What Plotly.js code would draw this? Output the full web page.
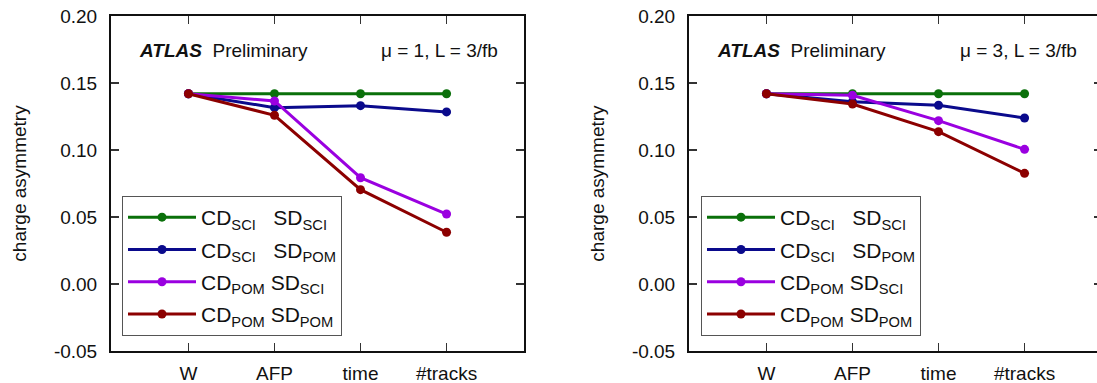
<!DOCTYPE html>
<html>
<head>
<meta charset="utf-8">
<script src="https://cdn.plot.ly/plotly-3.0.1.min.js"></script>
<style>
html,body{margin:0;padding:0;overflow:hidden;background:#fff;}
#chart{width:1104px;height:383px;}
</style>
</head>
<body>
<div id="chart"></div>
<script>
// ---- data ----
const categories = ['W', 'AFP', 'time', '#tracks'];
const seriesNames = [
  'CD<sub>SCI</sub>\u00a0\u00a0\u00a0SD<sub>SCI</sub>',
  'CD<sub>SCI</sub>\u00a0\u00a0\u00a0SD<sub>POM</sub>',
  'CD<sub>POM</sub>\u00a0SD<sub>SCI</sub>',
  'CD<sub>POM</sub>\u00a0SD<sub>POM</sub>'
];
const seriesColors = ['#0a700a', '#0a0a8c', '#9a00e0', '#8c0000'];
// mu = 1
const mu1_sciSci = [0.142, 0.142, 0.142, 0.142];
const mu1_sciPom = [0.142, 0.1316, 0.1331, 0.1284];
const mu1_pomSci = [0.142, 0.1366, 0.0793, 0.0522];
const mu1_pomPom = [0.142, 0.1259, 0.0704, 0.0386];
// mu = 3
const mu3_sciSci = [0.142, 0.142, 0.142, 0.142];
const mu3_sciPom = [0.142, 0.136, 0.1334, 0.1239];
const mu3_pomSci = [0.142, 0.1408, 0.1219, 0.1005];
const mu3_pomPom = [0.142, 0.1343, 0.1137, 0.0826];
const yTickVals = [-0.05, 0, 0.05, 0.10, 0.15, 0.20];
const yTickText = ['-0.05', '0.00', '0.05', '0.10', '0.15', '0.20'];
const panelTexts = ['\u03bc = 1, L = 3/fb', '\u03bc = 3, L = 3/fb'];

const FONT = 'Liberation Sans, Arial, sans-serif';
const traces = [];
function addPanel(list, xa, ya, leg, tag) {
  list.forEach((ys, i) => {
    traces.push({
      x: categories, y: ys, xaxis: xa, yaxis: ya,
      type: 'scatter', mode: 'lines+markers',
      name: seriesNames[i], legend: leg, legendgroup: tag + i,
      line: {color: seriesColors[i], width: 3},
      marker: {color: seriesColors[i], size: 9}
    });
  });
}
addPanel([mu1_sciSci, mu1_sciPom, mu1_pomSci, mu1_pomPom], 'x', 'y', 'legend', 'a');
addPanel([mu3_sciSci, mu3_sciPom, mu3_pomSci, mu3_pomPom], 'x2', 'y2', 'legend2', 'b');

const W = 1104;
function xAxis(domain, anchor) {
  return {
    type: 'category', domain: domain, anchor: anchor, range: [-0.9, 3.9],
    showline: true, linecolor: '#111', linewidth: 2, mirror: 'allticks',
    ticks: 'inside', ticklen: 8, tickwidth: 1.5, tickcolor: '#333',
    showgrid: false, zeroline: false, fixedrange: true,
    tickfont: {family: FONT, size: 19, color: '#111'},
    ticklabelstandoff: 4
  };
}
function yAxis(anchor) {
  return {
    anchor: anchor, range: [-0.05, 0.20],
    tickvals: yTickVals, ticktext: yTickText,
    showline: true, linecolor: '#111', linewidth: 2, mirror: 'allticks',
    ticks: 'inside', ticklen: 8, tickwidth: 1.5, tickcolor: '#333',
    showgrid: false, zeroline: false, fixedrange: true,
    tickfont: {family: FONT, size: 19, color: '#111'},
    ticklabelstandoff: 8,
    title: {text: 'charge asymmetry', font: {family: FONT, size: 19, color: '#111'}, standoff: 22}
  };
}
function legendCfg(x) {
  return {
    x: x, xanchor: 'left', y: (351 - 196) / 335, yanchor: 'top',
    bgcolor: '#fff', bordercolor: '#555', borderwidth: 1,
    font: {family: FONT, size: 21, color: '#111'},
    traceorder: 'grouped', tracegroupgap: 2, itemwidth: 68,
    itemclick: false, itemdoubleclick: false
  };
}
const annFont = {family: FONT, size: 19, color: '#111'};
const layout = {
  width: W, height: 383,
  margin: {l: 0, r: 0, t: 16, b: 32},
  paper_bgcolor: '#fff', plot_bgcolor: '#fff',
  font: {family: FONT, size: 19, color: '#111'},
  xaxis: xAxis([111 / W, 524 / W], 'y'),
  yaxis: yAxis('x'),
  xaxis2: xAxis([689 / W, 1102 / W], 'y2'),
  yaxis2: yAxis('x2'),
  legend: legendCfg(122 / W),
  legend2: legendCfg(701 / W),
  annotations: [
    {xref: 'x domain', yref: 'y domain', x: 0.063, y: 0.8985, xanchor: 'left', yanchor: 'middle',
     text: '<b><i>ATLAS</i></b>  Preliminary', showarrow: false, font: annFont},
    {xref: 'x domain', yref: 'y domain', x: 0.942, y: 0.8985, xanchor: 'right', yanchor: 'middle',
     text: panelTexts[0], showarrow: false, font: annFont},
    {xref: 'x2 domain', yref: 'y2 domain', x: 0.062, y: 0.8985, xanchor: 'left', yanchor: 'middle',
     text: '<b><i>ATLAS</i></b>  Preliminary', showarrow: false, font: annFont},
    {xref: 'x2 domain', yref: 'y2 domain', x: 0.9436, y: 0.8985, xanchor: 'right', yanchor: 'middle',
     text: panelTexts[1], showarrow: false, font: annFont}
  ]
};
Plotly.newPlot('chart', traces, layout, {displayModeBar: false, staticPlot: true});
</script>
</body>
</html>
